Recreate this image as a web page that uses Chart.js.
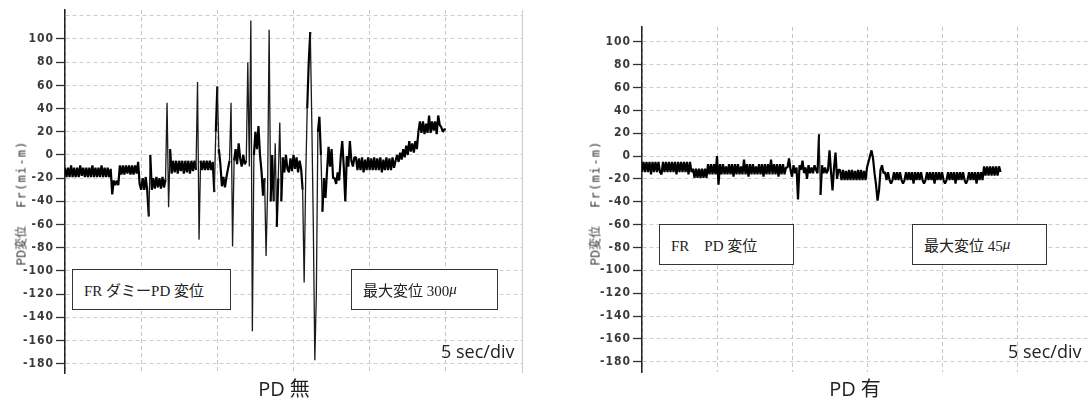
<!DOCTYPE html>
<html>
<head>
<meta charset="utf-8">
<script src="https://cdn.jsdelivr.net/npm/chart.js@4.4.1/dist/chart.umd.min.js"></script>
<style>
  html, body { margin: 0; padding: 0; background: #fff; }
  body { width: 1088px; height: 400px; overflow: hidden; position: relative; font-family: 'Noto Sans CJK JP', sans-serif; }
  .panel { position: absolute; top: 0; width: 544px; height: 400px; }
  .panel canvas { position: absolute; left: 0; top: 0; }
  .ytitle { position: absolute; transform: translate(-50%, -50%) rotate(-90deg); white-space: nowrap; font-size: 12px; color: #333; }
  .ytitle .unit { font-family: 'DejaVu Sans Mono', monospace; letter-spacing: 1.2px; margin-left: 18px; }
  .box { position: absolute; border: 1px solid #333; background: #fff; box-sizing: border-box;
         font-family: 'Liberation Serif', 'Noto Sans CJK JP', serif; font-size: 15px; color: #222;
         display: flex; align-items: center; padding-left: 11px; white-space: nowrap; }
  .box i { font-family: 'Liberation Serif', serif; }
  .rate { position: absolute; font-family: 'Open Sans', sans-serif; font-size: 18px; line-height: 1; color: #222; white-space: nowrap; }
  .cap { position: absolute; font-family: 'Open Sans', 'Noto Sans CJK JP', sans-serif; font-size: 20px; line-height: 1; color: #222; transform: translateX(-50%); white-space: nowrap; }
</style>
</head>
<body>

<div class="panel" style="left:0">
  <canvas id="chartOff" width="544" height="400"></canvas>
  <div class="ytitle" style="left:20px; top:203px">PD変位<span class="unit">Fr(mi-m)</span></div>
  <div class="box" style="left:72px; top:269px; width:159px; height:41px">FR ダミーPD 変位</div>
  <div class="box" style="left:351px; top:269px; width:147px; height:41px">最大変位 300<i>μ</i></div>
  <div class="rate" style="left:441px; top:342px">5 sec/div</div>
  <div class="cap" style="left:284px; top:379px">PD 無</div>
</div>

<div class="panel" style="left:544px">
  <canvas id="chartOn" width="544" height="400"></canvas>
  <div class="ytitle" style="left:50px; top:203px">PD変位<span class="unit">Fr(mi-m)</span></div>
  <div class="box" style="left:115px; top:224px; width:135px; height:41px">FR　PD 変位</div>
  <div class="box" style="left:368px; top:224px; width:135px; height:41px">最大変位 45<i>μ</i></div>
  <div class="rate" style="left:464px; top:342px">5 sec/div</div>
  <div class="cap" style="left:311px; top:379px">PD 有</div>
</div>

<script>
// Sampling interval of the recorded displacement traces (seconds)
const SAMPLE_SEC = 0.1;

// Displacement without PD (μm), one value per sample
const displacementWithoutPD = [
  -11, -19, -11, -19, -9, -19, -11, -19, -11, -19,
  -9, -18, -11, -19, -11, -19, -11, -19, -9, -19,
  -11, -19, -11, -19, -9, -19, -11, -19, -11, -19,
  -12, -34, -22, -26, -22, -26,
  -9, -17, -9, -17, -9, -16, -9, -17, -9, -17, -9, -16,
  -6, -25, -30, -20, -30, -19, -31, -53, 0, -30,
  -20, -29, -19, -28, -20, -29, -19, -28, -21,
  45, -45, 5,
  -16, -5, -15, -5, -16, -5, -14, -5, -16, -5, -15, -5, -16, -5, -14, -5, -13,
  63, -73,
  -5, -13, -5, -13, -5, -13, -5, -13, -6,
  -32, 20, 59, 5, -8, -27, -19, -28, -19, -12, -5,
  45, -79, -5, 5, -8, 10, -3, -10, 0, -8,
  -5, 80, -10, 116, -152, 0, 20, 5, 25, 0,
  -14, -35, -20, -87, -30, 108, -40, 0, -40, 10, -62, -20, 28, -40,
  -2, -15, 0, -12, -15, -3, -14, 0, -12, -2, -15, -5, -12,
  -30, -110, -20, 40, 80, 106, 30, -60, -177, -120, 20, 33, 0,
  -49, -20, -37, -14, 7, -10, 5, -20, -20, -25, -15, -22,
  -2, 12, -10, -40, -1, -10, 12, -5, -10, -2,
  -2, -13, -3, -13, -2, -15, -4, -13, -2, -13, -3, -13, -2,
  -13, -3, -13, -2, -15, -4, -13, -2, -13, -3, -13, -2, -11,
  -5, 0, -6, 2, -4, 5, -2, 8, 0, 12, 3, 10, 2, 12, 5, 20,
  29, 19, 29, 18, 27, 19, 34, 19, 29, 21, 29, 18, 34, 26, 24, 20, 22, 22
];

// Displacement with PD (μm), one value per sample
const displacementWithPD = [
  -14, -5, -14, -5, -14, -5, -16, -5, -14, -5,
  -14, -5, -14, -16, -5, -14, -5, -14, -5, -14,
  -5, -14, -5, -16, -5, -14, -5, -14, -5, -14,
  -5, -16, -5, -14,
  -11, -19, -11, -19, -11, -19, -11, -19, -11, -19,
  -7, -16, -7, -16, -7, -16,
  0, -25,
  -7, -16, -7, -16, -9, -16, -7, -16, -7, -18,
  -7, -16, -7, -16, -9, -16, -3, -16, -7, -18,
  -7, -16, -7, -16, -9, -16, -7, -16, -7, -18,
  -7, -16, -7, -16, -3, -16, -7, -16, -7, -18,
  -7, -16, -7, -16, -10,
  -10, -2, -12, -18, -8, -15, -10, -38, -8, -12,
  -4, -15, -10, -20, -8, -15, -10, -15, -8, -12,
  -15, 19, -34, -8, -15, -10, -15, -12, 5, -14,
  -30, -10, 3, -20, -12,
  -12, -21, -12, -21, -13, -21, -12, -21, -12, -21, -13, -21, -12, -21, -12, -21, -13, -21,
  -10, -5, 0, 5, -2, -15, -25, -39, -30, -12, -8, -15,
  -14, -21, -14, -21, -24, -21, -14, -21, -14, -21,
  -14, -21, -24, -21, -14, -21, -14, -21, -14, -24,
  -14, -21, -14, -21, -14, -21, -24, -21, -14, -21,
  -14, -21, -14, -24, -14, -21, -14, -21, -14, -21,
  -24, -21, -14, -21, -14, -21, -14, -24, -14, -21,
  -14, -21, -14, -21, -24, -21, -14, -21, -14, -21,
  -14, -24, -14, -21, -14, -21,
  -9, -17, -9, -17, -9, -17, -9, -17, -9, -17, -9, -14
];

// Vertical axis tick values (μm)
const yTicksOff = [120, 100, 80, 60, 40, 20, 0, -20, -40, -60, -80, -100, -120, -140, -160, -180];
const yTicksOn  = [100, 80, 60, 40, 20, 0, -20, -40, -60, -80, -100, -120, -140, -160, -180];

function toPoints(values) {
  return values.map((v, i) => ({ x: i * SAMPLE_SEC, y: v }));
}

// Large jumps between samples are drawn as thin strokes, the dense band stays heavy
const jump = ctx => Math.abs(ctx.p1.parsed.y - ctx.p0.parsed.y);

// Light frame line on the right edge of the plot; spaced tick lettering
const frameExtras = {
  id: 'frameExtras',
  beforeDraw(chart) {
    chart.ctx.letterSpacing = '1px';
  },
  afterDraw(chart, args, opts) {
    if (!opts.show) return;
    const { ctx, chartArea } = chart;
    ctx.save();
    ctx.strokeStyle = '#d0d0d0';
    ctx.lineWidth = 1.2;
    ctx.beginPath();
    ctx.moveTo(chartArea.right + 0.5, chartArea.top);
    ctx.lineTo(chartArea.right + 0.5, chartArea.bottom);
    ctx.stroke();
    ctx.restore();
  }
};

function makeChart(id, values, cfg) {
  return new Chart(document.getElementById(id), {
    type: 'line',
    data: {
      datasets: [{
        data: toPoints(values),
        borderColor: '#000',
        borderWidth: 2.2,
        borderJoinStyle: 'bevel',
        tension: 0,
        pointRadius: 0,
        fill: false,
        segment: {
          borderWidth: ctx => (jump(ctx) > 45 ? 1.3 : 2.2),
          borderColor: ctx => (jump(ctx) > 45 ? '#1a1a1a' : '#000')
        }
      }]
    },
    options: {
      responsive: false,
      animation: false,
      devicePixelRatio: 1,
      layout: { padding: cfg.padding },
      plugins: { legend: { display: false }, tooltip: { enabled: false }, frameExtras: { show: cfg.edge } },
      scales: {
        x: {
          type: 'linear',
          min: 0,
          max: cfg.xMax,
          ticks: { display: false, stepSize: 5 },
          grid: { color: '#c9c4c2', drawTicks: false, lineWidth: 1 },
          border: { display: false, dash: [4, 3] },
          afterFit(scale) { scale.height = 0; }
        },
        y: {
          type: 'linear',
          min: cfg.yMin,
          max: cfg.yMax,
          afterBuildTicks(scale) { scale.ticks = cfg.yTicks.map(v => ({ value: v })); },
          afterFit(scale) { scale.width = cfg.yWidth; },
          ticks: {
            padding: 2,
            color: '#3a3a3a',
            font: { family: "'DejaVu Sans Condensed', 'DejaVu Sans', sans-serif", size: 12, weight: 'bold' },
            callback: v => (v > 100 ? '' : String(v))
          },
          grid: {
            color: '#d8c9c3',
            lineWidth: 1,
            tickLength: 9,
            tickWidth: 1.3,
            tickColor: ctx => (ctx.tick && ctx.tick.value > 100 ? 'rgba(0,0,0,0)' : '#333')
          },
          border: { display: true, color: '#222', width: 1.5, dash: [4, 3] }
        }
      }
    },
    plugins: [frameExtras]
  });
}

makeChart('chartOff', displacementWithoutPD, {
  padding: { top: 10, right: 22, bottom: 27, left: 0 },
  xMax: 30, yMin: -188, yMax: 125, yTicks: yTicksOff, yWidth: 65, edge: true
});

makeChart('chartOn', displacementWithPD, {
  padding: { top: 27, right: 0, bottom: 28, left: 0 },
  xMax: 29.73, yMin: -189, yMax: 113, yTicks: yTicksOn, yWidth: 98, edge: false
});
</script>
</body>
</html>
